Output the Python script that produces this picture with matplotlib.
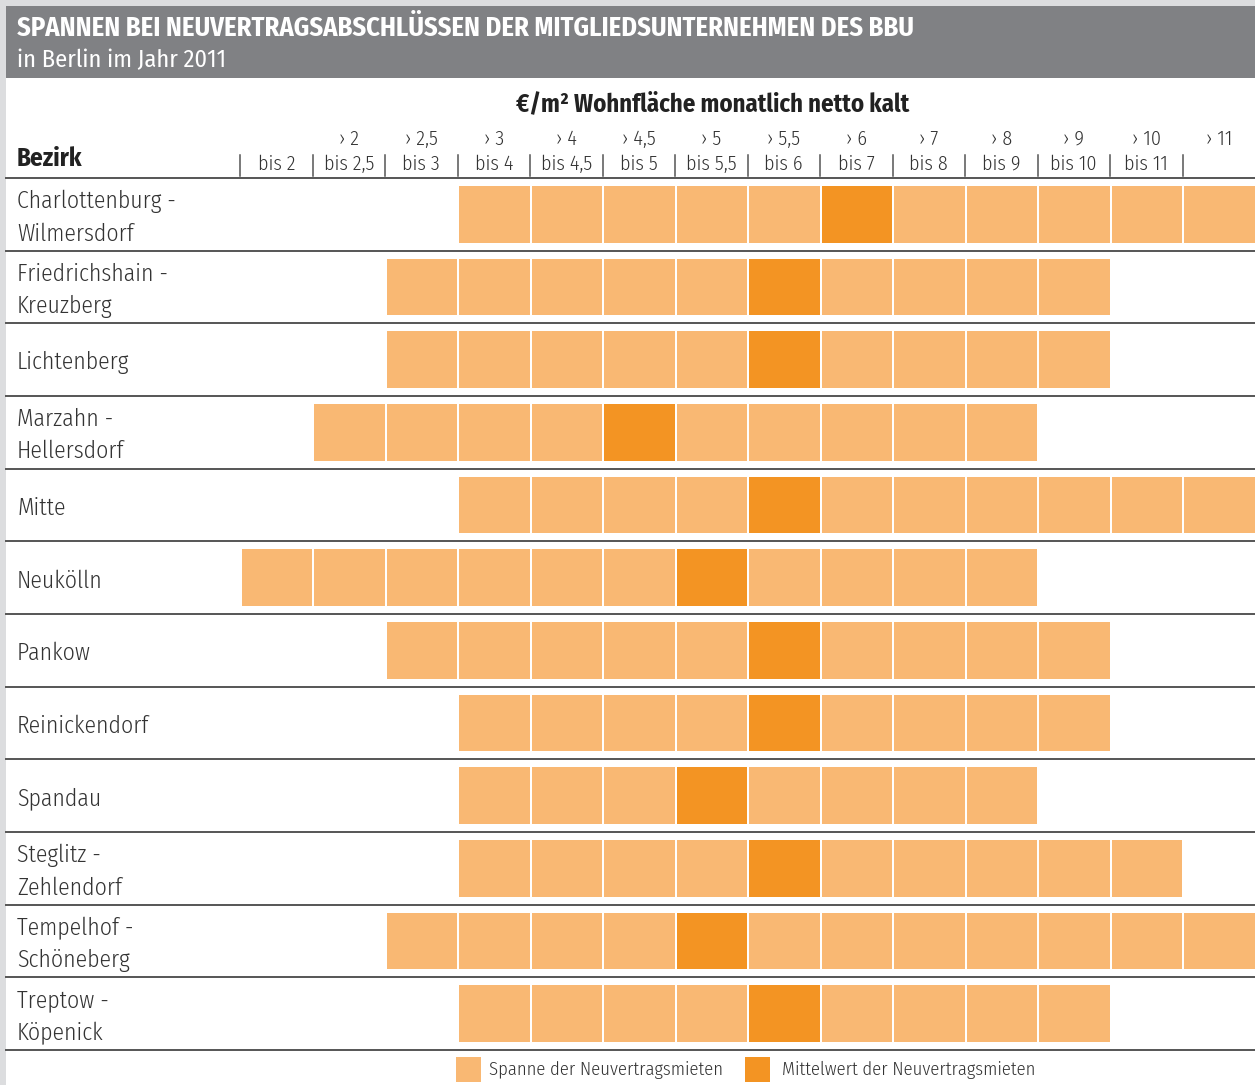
import matplotlib
matplotlib.use("Agg")
import matplotlib.pyplot as plt
from matplotlib.transforms import blended_transform_factory
from matplotlib.patches import Rectangle

FONT = ['Fira Sans Condensed', 'DejaVu Sans']
plt.rcParams['font.family'] = FONT

districts = ["Charlottenburg -\nWilmersdorf", "Friedrichshain -\nKreuzberg", "Lichtenberg",
             "Marzahn -\nHellersdorf", "Mitte", "Neukölln", "Pankow", "Reinickendorf",
             "Spandau", "Steglitz -\nZehlendorf", "Tempelhof -\nSchöneberg", "Treptow -\nKöpenick"]
top_labels = ["", "› 2", "› 2,5", "› 3", "› 4", "› 4,5", "› 5", "› 5,5", "› 6", "› 7", "› 8",
              "› 9", "› 10", "› 11"]
bottom_labels = ["bis 2", "bis 2,5", "bis 3", "bis 4", "bis 4,5", "bis 5", "bis 5,5", "bis 6",
                 "bis 7", "bis 8", "bis 9", "bis 10", "bis 11", ""]
# range of rent classes (column indices) and the mean class
range_start = [3, 2, 2, 1, 3, 0, 2, 3, 3, 3, 2, 3]
range_end = [13, 11, 11, 10, 13, 10, 11, 11, 10, 12, 13, 11]
mean_class = [8, 7, 7, 5, 7, 6, 7, 7, 6, 7, 6, 7]

LIGHT = "#F9B873"
DARK = "#F39423"
GRAY_BAR = "#808184"
BORDER = "#DCDDDF"
LINE = "#555555"
TXT = "#333333"
LW = 300  # light weight

W, H = 1255, 1085
fig = plt.figure(figsize=(W / 100, H / 100), dpi=100)
fig.patch.set_facecolor("white")

# background frame
bg = fig.add_axes([0, 0, 1, 1])
bg.set_xlim(0, W)
bg.set_ylim(H, 0)
bg.axis("off")
bg.add_patch(Rectangle((0, 0), W, H, facecolor=BORDER, edgecolor="none"))
bg.add_patch(Rectangle((6, 6), W - 6, H - 6, facecolor="white", edgecolor="none"))
bg.add_patch(Rectangle((6, 6), W - 6, 72, facecolor=GRAY_BAR, edgecolor="none"))
bg.text(17, 28, "SPANNEN BEI NEUVERTRAGSABSCHLÜSSEN DER MITGLIEDSUNTERNEHMEN DES BBU",
        color="white", fontsize=19.1, fontweight="bold", va="center", ha="left")
bg.text(17, 60, "in Berlin im Jahr 2011", color="white", fontsize=17.5, fontweight="normal",
        va="center", ha="left")

# grid axes
x0, x1, y0, y1 = 240, 1255, 178, 1050
ax = fig.add_axes([x0 / W, 1 - y1 / H, (x1 - x0) / W, (y1 - y0) / H])
ncol = len(bottom_labels)
nrow = len(districts)
ax.set_xlim(0, ncol)
ax.set_ylim(nrow, 0)
ax.axis("off")
colw = (x1 - x0) / ncol
rowh = (y1 - y0) / nrow

for r in range(nrow):
    cols = list(range(range_start[r], range_end[r] + 1))
    colors = [DARK if c == mean_class[r] else LIGHT for c in cols]
    ax.bar([c + 0.512 for c in cols], [0.78] * len(cols), bottom=r + 0.11, width=0.972,
           color=colors, edgecolor="none")

# row separators
xl = (6 - x0) / colw
for r in range(nrow + 1):
    ax.plot([xl, ncol], [r, r], color=LINE, lw=1.4, clip_on=False)

# row labels
tr = blended_transform_factory(fig.transFigure, ax.transData)
for r, name in enumerate(districts):
    ax.text(17 / W, r + 0.5 + 0.045, name, transform=tr, fontsize=17, fontweight=LW, color=TXT,
            va="center", ha="left", linespacing=1.5)


def py(p):
    return (p - y0) / rowh


# header
for c in range(ncol):
    ax.plot([c, c], [py(155), py(176)], color=LINE, lw=1.1, clip_on=False)
    if bottom_labels[c]:
        ax.text(c + 0.5, py(164), bottom_labels[c], fontsize=14.5, fontweight=LW, color=TXT,
                ha="center", va="center", clip_on=False)
    if top_labels[c]:
        ax.text(c + 0.5, py(139), top_labels[c], fontsize=14.5, fontweight=LW, color=TXT,
                ha="center", va="center", clip_on=False)

ax.text(17 / W, py(159), "Bezirk", transform=tr, fontsize=18, fontweight="bold",
        color="#222222", ha="left", va="center")
ax.text(ncol / 2 - 0.48, py(104), "€/m² Wohnfläche monatlich netto kalt", fontsize=17.8,
        fontweight="bold", color="#222222", ha="center", va="center", clip_on=False)

# legend
bg.add_patch(Rectangle((456, 1057), 25, 25, facecolor=LIGHT, edgecolor="none"))
bg.text(489, 1070, "Spanne der Neuvertragsmieten", fontsize=13.4, fontweight=LW,
        color=TXT, va="center", ha="left")
bg.add_patch(Rectangle((745, 1057), 25, 25, facecolor=DARK, edgecolor="none"))
bg.text(782, 1070, "Mittelwert der Neuvertragsmieten", fontsize=13.4, fontweight=LW,
        color=TXT, va="center", ha="left")

fig.savefig("out.png", dpi=100, facecolor=fig.get_facecolor())
